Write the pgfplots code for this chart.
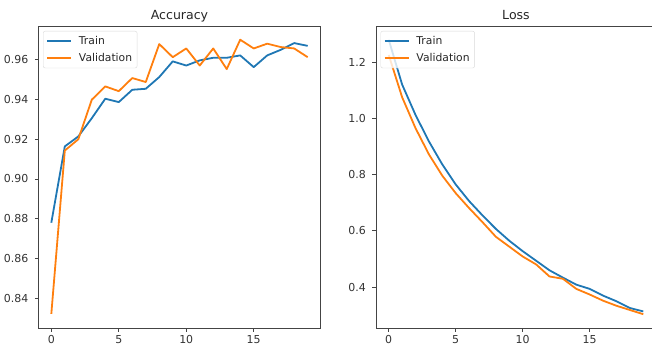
\documentclass[border=0pt]{standalone}
\usepackage{fontspec}
\setmainfont{DejaVu Sans}
\usepackage{pgfplots}
\usepackage{pgfplotstable}
\pgfplotsset{compat=1.18}
\definecolor{mplblue}{HTML}{1F77B4}
\definecolor{mplorange}{HTML}{FF7F0E}
\definecolor{axgray}{HTML}{444444}

\pgfplotstableread{
ep trainacc valacc trainloss valloss
0  0.8780 0.8321 1.279 1.225
1  0.9164 0.9143 1.120 1.075
2  0.9214 0.9200 1.012 0.965
3  0.9306 0.9399 0.918 0.872
4  0.9404 0.9466 0.836 0.796
5  0.9387 0.9442 0.765 0.734
6  0.9449 0.9508 0.706 0.681
7  0.9454 0.9488 0.655 0.631
8  0.9513 0.9679 0.607 0.579
9  0.9592 0.9613 0.565 0.544
10 0.9571 0.9657 0.528 0.509
11 0.9597 0.9571 0.494 0.481
12 0.9610 0.9657 0.460 0.438
13 0.9610 0.9553 0.434 0.430
14 0.9622 0.9701 0.409 0.394
15 0.9563 0.9657 0.394 0.374
16 0.9622 0.9681 0.370 0.352
17 0.9650 0.9664 0.350 0.334
18 0.9684 0.9657 0.326 0.319
19 0.9670 0.9613 0.314 0.304
}\hist

\pgfplotsset{
  legend image code/.code={\draw[#1, line width=1.8bp, draw opacity=1] (0bp,0bp) -- (24bp,0bp); \path (29bp,0bp);},
  mplstyle/.style={
    scale only axis,
    height=302bp,
    axis line style={axgray, line width=0.8bp},
    every tick/.style={axgray, line width=0.8bp},
    tick align=outside,
    major tick length=3.7bp,
    xtick pos=bottom, ytick pos=left,
    xmin=-0.95, xmax=19.95,
    xtick={0,5,10,15},
    tick label style={font=\fontsize{11}{13}\selectfont, text=black!80},
    yticklabel style={xshift=-3bp},
    /pgf/number format/assume math mode=true,
    title style={font=\fontsize{12.6}{14}\selectfont, text=black!85, anchor=base, at={(0.5,1)}, yshift=1bp},
    legend cell align=left,
    legend style={at={(0,1)}, anchor=north west, xshift=4.5bp, yshift=-5bp,
      draw=black!15, rounded corners=2bp, fill=white, fill opacity=0.8, text opacity=1, draw opacity=1,
      font=\fontsize{10.8}{12}\selectfont, text=black!85,
      inner xsep=3bp, inner ysep=3bp, row sep=3.5bp},
    every axis plot/.append style={line width=1.8bp, line join=round},
  }
}

\begin{document}
\begin{tikzpicture}
\begin{axis}[mplstyle, at={(38.5bp,18bp)}, anchor=south west, width=282bp,
  title={Accuracy},
  ymin=0.825, ymax=0.977,
  ytick={0.84,0.86,0.88,0.90,0.92,0.94,0.96},
  yticklabel style={/pgf/number format/.cd, fixed, fixed zerofill, precision=2},
  ]
\addplot[mplblue] table[x=ep, y=trainacc] {\hist};
\addlegendentry{Train}
\addplot[mplorange] table[x=ep, y=valacc] {\hist};
\addlegendentry{Validation}
\end{axis}
\begin{axis}[mplstyle, at={(376bp,18bp)}, anchor=south west, width=280bp,
  title={Loss},
  ymin=0.255, ymax=1.328,
  ytick={0.4,0.6,0.8,1.0,1.2},
  yticklabel style={/pgf/number format/.cd, fixed, fixed zerofill, precision=1},
  ]
\addplot[mplblue] table[x=ep, y=trainloss] {\hist};
\addlegendentry{Train}
\addplot[mplorange] table[x=ep, y=valloss] {\hist};
\addlegendentry{Validation}
\end{axis}
\pgfresetboundingbox
\useasboundingbox (0bp,0bp) rectangle (652bp,346bp);
\end{tikzpicture}
\end{document}
